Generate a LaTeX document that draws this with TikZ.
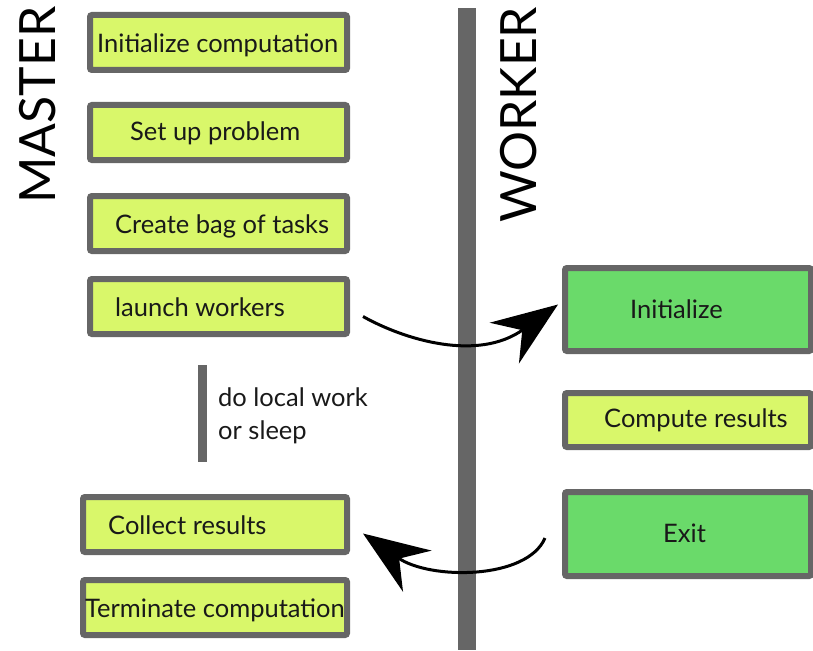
\documentclass[tikz,border=0pt]{standalone}
\usepackage{fontspec}
\setmainfont{Lato}
\usetikzlibrary{arrows.meta}
\definecolor{edgegray}{HTML}{666666}
\definecolor{taskyellow}{HTML}{D9F76A}
\definecolor{taskgreen}{HTML}{6ADA6A}
\tikzset{
  box/.style={draw=edgegray, line width=6pt, rounded corners=2pt, inner sep=0pt},
  ybox/.style={box, fill=taskyellow},
  gbox/.style={box, fill=taskgreen},
  lbl/.style={anchor=base west, inner sep=0pt, font=\fontsize{25.5}{30}\selectfont, text=black!90},
  role/.style={anchor=base west, inner sep=0pt, rotate=90, font=\fontsize{50}{56}\selectfont},
  flow/.style={line width=3pt, -{Stealth[length=66pt, width=50pt, inset=22pt]}}
}
\begin{document}
\begin{tikzpicture}[x=1pt, y=-1pt]
\useasboundingbox (0,0) rectangle (813,650);

% timeline separating the two roles
\fill[edgegray] (458,8) rectangle (476,650);

% role titles
\node[role] (master) at (55,204) {MASTER};
\node[role] (worker) at (536,223) {WORKER};

% master steps
\node[ybox, minimum width=257pt, minimum height=55pt] (init) at (218.5,42.5) {};
\node[ybox, minimum width=257pt, minimum height=55pt] (setup) at (218.5,132.5) {};
\node[ybox, minimum width=257pt, minimum height=55pt] (bag) at (218.5,223.5) {};
\node[ybox, minimum width=257pt, minimum height=55pt] (launch) at (218.5,306.5) {};
\node[ybox, minimum width=264pt, minimum height=55pt] (collect) at (215,524.5) {};
\node[ybox, minimum width=264pt, minimum height=55pt] (term) at (215,607.5) {};

\node[lbl] (tinit) at (97,53) {Initialize computation};
\node[lbl] (tsetup) at (130,140.5) {Set up problem};
\node[lbl] (tbag) at (115,233) {Create bag of tasks};
\node[lbl] (tlaunch) at (115,316) {launch workers};
\node[lbl] (tcollect) at (108,534) {Collect results};
\node[lbl] (tterm) at (85,617) {Terminate computation};

% idle period of the master
\fill[edgegray] (198,365) rectangle (207,462);
\node[lbl] (idle1) at (218,406) {do local work};
\node[lbl] (idle2) at (218,439) {or sleep};

% worker steps
\node[gbox, minimum width=246pt, minimum height=83pt] (winit) at (688,309.5) {};
\node[ybox, minimum width=246pt, minimum height=54pt] (wcomp) at (688,420) {};
\node[gbox, minimum width=246pt, minimum height=84pt] (wexit) at (688,534) {};

\node[lbl] (twinit) at (630,318) {Initialize};
\node[lbl] (twcomp) at (604,427) {Compute results};
\node[lbl] (twexit) at (663,542) {Exit};

% hand-over arrows
\coordinate (a1) at ([shift={(13pt,-10pt)}]launch.east);
\coordinate (a2) at ([shift={(-4pt,5pt)}]winit.west);
\draw[flow] (a1) .. controls (405,340) and (478,362) .. (a2);

\coordinate (b1) at ([shift={(-17pt,-4pt)}]wexit.west);
\coordinate (b2) at ([shift={(13pt,-9pt)}]collect.east);
\draw[flow] (b1) .. controls (527,580) and (430,580) .. (b2);
\end{tikzpicture}
\end{document}
